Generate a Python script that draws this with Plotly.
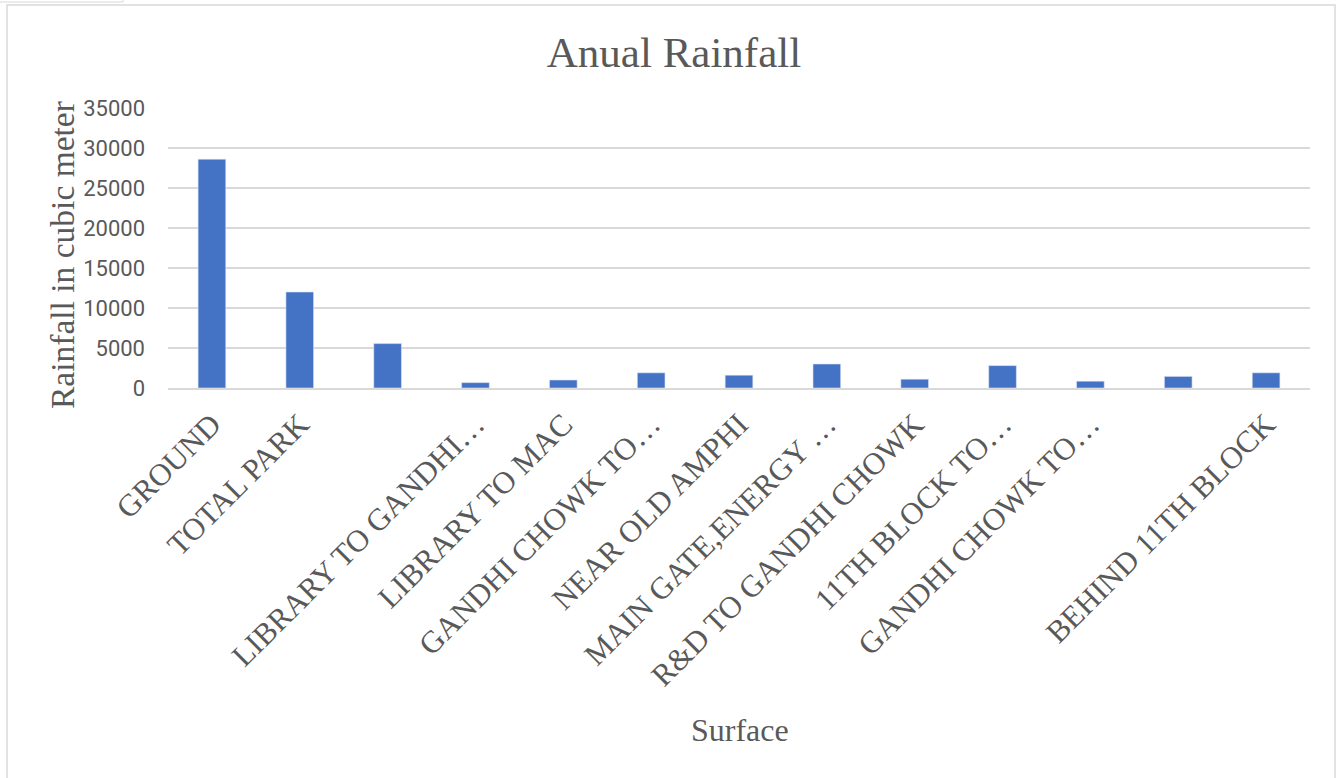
import plotly.graph_objects as go

# Surfaces (two category cells are blank in the source table)
surfaces = [
    "GROUND",
    "TOTAL PARK",
    "",
    "LIBRARY TO GANDHI…",
    "LIBRARY TO MAC",
    "GANDHI CHOWK TO…",
    "NEAR OLD AMPHI",
    "MAIN GATE,ENERGY …",
    "R&D TO GANDHI CHOWK",
    "11TH BLOCK TO…",
    "GANDHI CHOWK TO…",
    "",
    "BEHIND 11TH BLOCK",
]
rainfall_m3 = [28600, 12000, 5550, 670, 1000, 1900, 1600, 3000, 1100, 2800, 850, 1450, 1900]
y_ticks = [0, 5000, 10000, 15000, 20000, 25000, 30000, 35000]

W, H = 1341, 778
ML, MR, MT, MB = 168, 31, 108, 390
PW, PH = W - ML - MR, H - MT - MB

GRAY_TXT = "#595959"
GRID = "#d9d9d9"
SERIF = "Liberation Serif, Times New Roman, serif"

positions = list(range(len(surfaces)))

fig = go.Figure(
    go.Bar(
        x=positions,
        y=rainfall_m3,
        marker=dict(color="#4472C4", line=dict(color="#dce6f5", width=0.6)),
        showlegend=False,
        hoverinfo="y",
    )
)


def px_x(p):
    return (p - ML) / PW


def px_y(p):
    return (MT + PH - p) / PH


fig.update_layout(
    width=W,
    height=H,
    margin=dict(l=ML, r=MR, t=MT, b=MB),
    paper_bgcolor="white",
    plot_bgcolor="white",
    bargap=0.685,
    title=dict(
        text="Anual Rainfall",
        x=674 / W,
        xanchor="center",
        y=1 - 52 / H,
        yanchor="middle",
        xref="container",
        yref="container",
        font=dict(family=SERIF, size=43, color=GRAY_TXT),
    ),
    xaxis=dict(
        tickmode="array",
        tickvals=positions,
        ticktext=surfaces,
        range=[-0.5, len(surfaces) - 0.5],
        tickangle=-45,
        tickfont=dict(family=SERIF, size=31, color=GRAY_TXT),
        showgrid=False,
        showline=True,
        linecolor=GRID,
        linewidth=1.5,
        ticks="",
        zeroline=False,
        ticklabelstandoff=4,
    ),
    yaxis=dict(
        range=[0, 35000],
        tickmode="array",
        tickvals=y_ticks,
        ticktext=[str(v) for v in y_ticks],
        tickfont=dict(family="Roboto, Arial, sans-serif", size=22, color=GRAY_TXT),
        showgrid=True,
        gridcolor=GRID,
        gridwidth=1.5,
        zeroline=False,
        showline=False,
        ticks="",
        ticklabelstandoff=22,
    ),
    annotations=[
        dict(
            text="Surface",
            xref="paper",
            yref="paper",
            x=px_x(740),
            y=px_y(730),
            xanchor="center",
            yanchor="middle",
            showarrow=False,
            font=dict(family=SERIF, size=32, color=GRAY_TXT),
        ),
        dict(
            text="Rainfall in cubic meter",
            xref="paper",
            yref="paper",
            x=px_x(62),
            y=px_y(255),
            xanchor="center",
            yanchor="middle",
            textangle=-90,
            showarrow=False,
            font=dict(family=SERIF, size=33.5, color=GRAY_TXT),
        ),
    ],
    shapes=[
        # chart frame
        dict(
            type="rect",
            xref="paper",
            yref="paper",
            x0=px_x(7),
            x1=px_x(1335),
            y0=px_y(790),
            y1=px_y(5),
            line=dict(color=GRID, width=1.5),
            fillcolor="rgba(0,0,0,0)",
            layer="below",
        ),
        # small tab at the top-left corner
        dict(
            type="rect",
            xref="paper",
            yref="paper",
            x0=px_x(-5),
            x1=px_x(123),
            y0=px_y(2),
            y1=px_y(-5),
            line=dict(color=GRID, width=1),
            fillcolor="rgba(0,0,0,0)",
            layer="below",
        ),
    ],
)

fig.write_html("out.html")
